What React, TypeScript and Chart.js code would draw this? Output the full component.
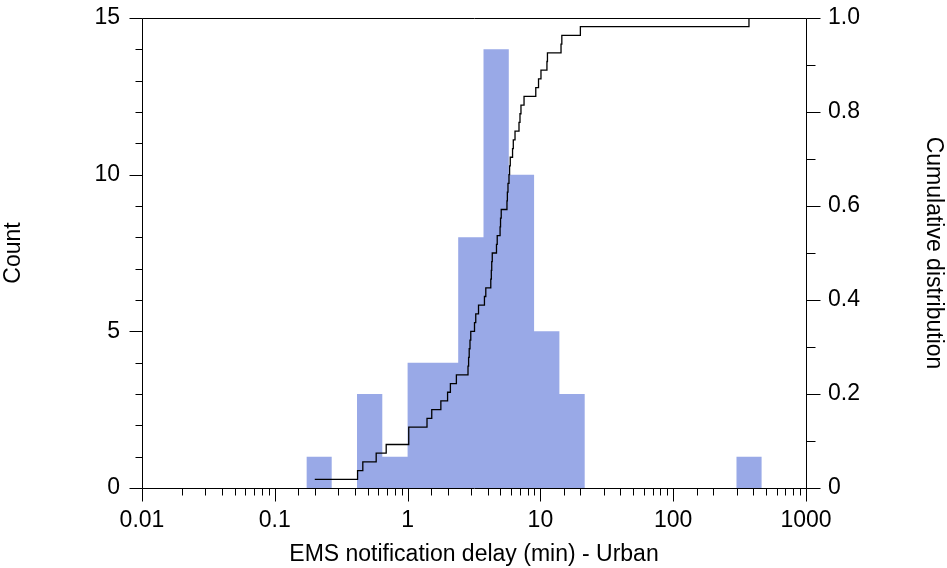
import React, { useEffect, useRef } from 'react';
import { Chart, registerables } from 'chart.js';

Chart.register(...registerables);

// Sorted individual delays (min)
const delays = [
  0.2, 0.42, 0.46, 0.58, 0.69, 1.02, 1.02, 1.4, 1.52, 1.78, 2.0, 2.1, 2.33,
  2.85, 2.88, 2.91, 2.95, 2.99, 3.19, 3.26, 3.42, 3.79, 3.88, 4.23, 4.27, 4.3,
  4.34, 4.67, 4.73, 4.97, 5.01, 5.07, 5.6, 5.64, 5.7, 5.8, 5.86, 5.93, 6.17,
  6.25, 6.44, 6.9, 7.02, 7.14, 7.53, 9.23, 9.68, 10.1, 11.2, 11.3, 14.3, 14.5,
  20.0, 372,
];

// Histogram bins (non-empty bins only)
const binLow = [0.173, 0.4159, 0.6449, 1.0, 1.5507, 2.4044, 3.7283, 5.781, 8.964, 13.9, 299.6];
const binHigh = [0.2682, 0.6449, 1.0, 1.5507, 2.4044, 3.7283, 5.781, 8.964, 13.9, 21.554, 464.5];
const binCounts = [1, 3, 1, 4, 4, 8, 14, 10, 5, 3, 1];

const xTickLabels = ['0.01', '0.1', '1', '10', '100', '1000'];
const xTitle = 'EMS notification delay (min) - Urban';
const yTitle = 'Count';
const y1Title = 'Cumulative distribution';

const FONT = 'Liberation Sans, Arial, Helvetica, sans-serif';
const FS = 23;

const framePlugin = {
  id: 'frameTicks',
  afterDraw(chart: any) {
    const { ctx, chartArea } = chart;
    const { left, right, top, bottom } = chartArea;
    const xs = chart.scales.x;
    const ys = chart.scales.y;
    const y1 = chart.scales.y1;
    const L = Math.round(left) + 0.5;
    const R = Math.round(right) + 0.5;
    const T = Math.round(top) + 0.5;
    const B = Math.round(bottom) + 0.5;
    ctx.save();
    ctx.strokeStyle = '#000';
    ctx.lineWidth = 1;
    ctx.beginPath();
    ctx.rect(L, T, R - L, B - T);
    // bottom ticks
    xs.ticks.forEach((t: any) => {
      const lg = Math.log10(t.value);
      const major = Math.abs(lg - Math.round(lg)) < 1e-6;
      const px = Math.round(xs.getPixelForValue(t.value)) + 0.5;
      ctx.moveTo(px, B);
      ctx.lineTo(px, B + (major ? 13 : 7));
    });
    // left ticks
    for (let v = 0; v <= 15; v++) {
      const py = Math.round(ys.getPixelForValue(v)) + 0.5;
      ctx.moveTo(L, py);
      ctx.lineTo(L - (v % 5 === 0 ? 13 : 7), py);
    }
    // right ticks
    for (let k = 0; k <= 10; k++) {
      const py = Math.round(y1.getPixelForValue(k / 10)) + 0.5;
      ctx.moveTo(R, py);
      ctx.lineTo(R + (k % 2 === 0 ? 14 : 9), py);
    }
    ctx.stroke();
    ctx.restore();
  },
};

const fixVertical = (w: number) => (s: any) => {
  s.width = w;
  s.paddingTop = 0;
  s.paddingBottom = 0;
};

export default function App() {
  const ref = useRef<HTMLCanvasElement | null>(null);

  useEffect(() => {
    if (!ref.current) return;
    const histPts: { x: number; y: number }[] = [];
    binLow.forEach((lo, i) => {
      histPts.push({ x: lo, y: 0 });
      histPts.push({ x: lo, y: binCounts[i] });
      histPts.push({ x: binHigh[i], y: binCounts[i] });
      histPts.push({ x: binHigh[i], y: 0 });
    });
    const n = delays.length;
    const cdfPts = delays.map((d, i) => ({ x: d, y: (i + 1) / n }));

    const chart = new Chart(ref.current, {
      type: 'line',
      data: {
        datasets: [
          {
            label: 'cdf',
            data: cdfPts,
            yAxisID: 'y1',
            borderColor: '#000',
            borderWidth: 1.3,
            pointRadius: 0,
            stepped: 'before',
            fill: false,
            order: 0,
          },
          {
            label: 'hist',
            data: histPts,
            yAxisID: 'y',
            borderWidth: 0,
            borderColor: 'rgba(0,0,0,0)',
            backgroundColor: '#99A9E7',
            pointRadius: 0,
            fill: 'origin',
            tension: 0,
            order: 1,
          },
        ],
      },
      options: {
        responsive: false,
        animation: false,
        events: [],
        layout: { padding: { top: 18, left: 0, right: 0, bottom: 0 } },
        plugins: { legend: { display: false }, tooltip: { enabled: false } },
        scales: {
          x: {
            type: 'logarithmic',
            min: 0.01,
            max: 1000,
            grid: { display: false, drawTicks: false },
            border: { display: false },
            ticks: {
              autoSkip: false,
              maxRotation: 0,
              padding: 19,
              color: '#000',
              font: { family: FONT, size: FS },
              callback: (value: any) => {
                const lg = Math.log10(Number(value));
                const r = Math.round(lg);
                return Math.abs(lg - r) < 1e-6 ? xTickLabels[r + 2] : '';
              },
            },
            title: {
              display: true,
              text: xTitle,
              color: '#000',
              font: { family: FONT, size: FS },
              padding: 0,
            },
            afterFit: (s: any) => {
              s.height = 80;
              s.paddingLeft = 0;
              s.paddingRight = 0;
            },
          },
          y: {
            position: 'left',
            min: 0,
            max: 15,
            grid: { display: false, drawTicks: false },
            border: { display: false },
            ticks: {
              stepSize: 5,
              padding: 22,
              color: '#000',
              font: { family: FONT, size: FS },
            },
            title: {
              display: true,
              text: yTitle,
              color: '#000',
              font: { family: FONT, size: FS },
              padding: 0,
            },
            afterFit: fixVertical(142),
          },
          y1: {
            position: 'right',
            min: 0,
            max: 1,
            grid: { display: false, drawTicks: false },
            border: { display: false },
            ticks: {
              stepSize: 0.2,
              padding: 22,
              color: '#000',
              font: { family: FONT, size: FS },
              callback: (v: any) => (Math.abs(Number(v)) < 1e-9 ? '0' : Number(v).toFixed(1)),
            },
            title: {
              display: true,
              text: y1Title,
              color: '#000',
              font: { family: FONT, size: FS },
              padding: 0,
            },
            afterFit: fixVertical(141),
          },
        },
      },
      plugins: [framePlugin],
    });
    return () => chart.destroy();
  }, []);

  return (
    <div style={{ position: 'absolute', left: 0, top: 0, width: 947, height: 568, background: '#fff' }}>
      <canvas ref={ref} width={947} height={568} style={{ display: 'block' }} />
    </div>
  );
}
